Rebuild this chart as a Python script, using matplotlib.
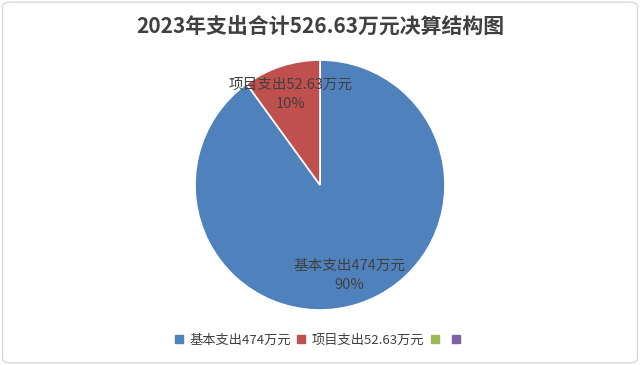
import matplotlib
matplotlib.use("Agg")
import matplotlib.pyplot as plt
from matplotlib.patches import FancyBboxPatch
from matplotlib.lines import Line2D

plt.rcParams['font.family'] = ['Noto Sans CJK SC', 'DejaVu Sans']

title = '2023年支出合计526.63万元决算结构图'
names = ['基本支出474万元', '项目支出52.63万元']
values = [474, 52.63]
colors = ['#4F81BD', '#C0504D']
extra_colors = ['#9BBB59', '#8064A2']

fig = plt.figure(figsize=(6.4, 3.65), dpi=100)
fig.patch.set_facecolor('white')
fig.patches.append(FancyBboxPatch((0.004, 0.006), 0.992, 0.988, boxstyle='round,pad=0,rounding_size=0.012',
                                  transform=fig.transFigure, facecolor='none', edgecolor='#D9D9D9', linewidth=1))

ax = fig.add_axes([195 / 640, 55 / 365, 250 / 640, 250 / 365])
wedges, texts, autotexts = ax.pie(values, colors=colors, startangle=90, counterclock=False,
                                  autopct='%.0f%%', pctdistance=0.76,
                                  wedgeprops=dict(edgecolor='white', linewidth=1.2))
ax.set_xlim(-1, 1)
ax.set_ylim(-1, 1)
ax.set_aspect('equal')
for name, t in zip(names, autotexts):
    pct = t.get_text()
    t.set_text(name + '\n' + pct)
    t.set_color('#404040')
    t.set_fontsize(10.5)
    t.set_linespacing(1.45)

fig.text(0.5, 0.925, title, ha='center', va='center', fontsize=15, fontweight='bold', color='#404040')

handles = [Line2D([], [], marker='s', linestyle='none', markersize=6, color=c) for c in colors + extra_colors]
labels = names + ['', '']
fig.legend(handles, labels, loc='center', bbox_to_anchor=(0.5, 0.068), ncol=4, frameon=False,
           fontsize=9.5, handlelength=0.8, handletextpad=0.4, columnspacing=0.4, labelcolor='#404040')

plt.savefig('out.png', dpi=100)
plt.close()
